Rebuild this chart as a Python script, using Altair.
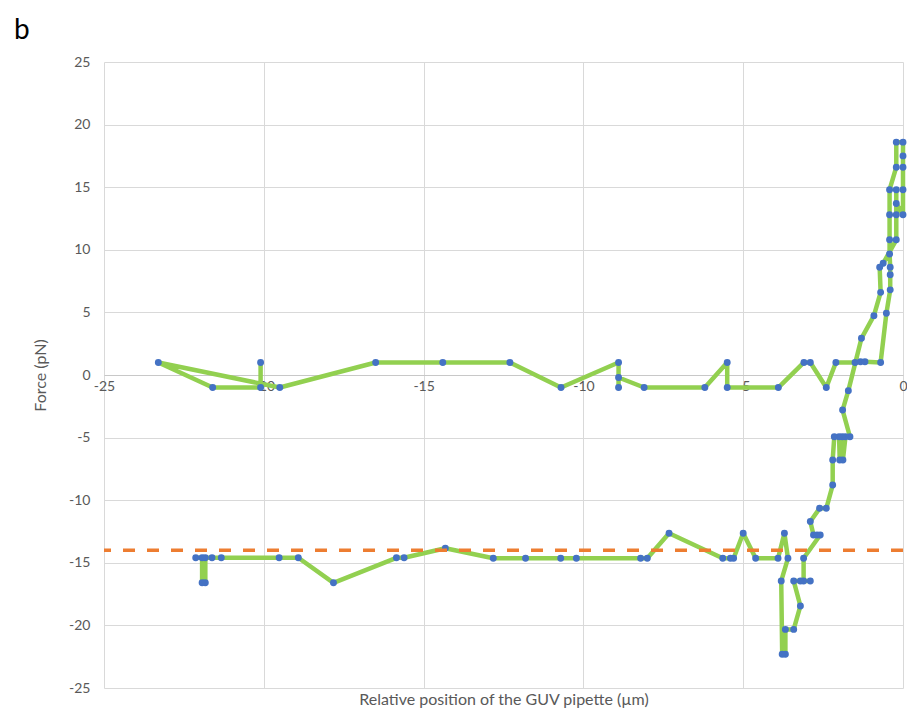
import altair as alt
import pandas as pd

# Trace of the measurement in acquisition order (x: relative position µm, y: force pN)
pos_um = [
    -20.1, -20.1, -21.6, -23.3, -19.5, -16.5, -14.4, -12.3, -10.7, -8.9,
    -8.9, -8.9, -8.1, -6.2, -5.5, -5.5, -3.9, -3.1, -2.9, -2.4,
    -2.1, -1.5, -1.33, -1.19, -0.7, -0.52, -0.4, -0.4, -0.4, -0.42,
    -0.42, -0.42, -0.42, -0.21, -0.21, 0.0, 0.0, 0.0, 0.0, 0.0,
    -0.21, -0.21, -0.21, -0.21, -0.62, -0.73, -0.7, -0.91, -1.30, -1.71,
    -1.89, -1.66, -1.8, -1.88, -1.9, -1.98, -2.0, -2.15, -2.2, -2.2,
    -2.4, -2.61, -2.9, -2.8, -2.69, -2.59, -3.11, -3.11, -2.9, -3.21,
    -3.42, -3.21, -3.42, -3.68, -3.68, -3.78, -3.81, -3.6, -3.71, -3.91,
    -4.61, -5.0, -5.3, -5.4, -5.64, -7.32, -8.0, -8.21, -10.22, -10.71,
    -11.81, -12.82, -14.32, -15.61, -15.85, -17.82, -18.92, -19.52, -21.33, -21.62,
    -21.83, -21.83, -21.93, -21.93, -22.13,
]
force_pn = [
    1.0, -1.0, -1.0, 1.0, -1.0, 1.0, 1.0, 1.0, -1.0, 1.0,
    -1.0, -0.2, -1.0, -1.0, 1.0, -1.0, -1.0, 1.0, 1.0, -1.0,
    1.0, 1.0, 1.06, 1.06, 1.0, 4.93, 6.8, 8.0, 8.6, 9.66,
    10.8, 12.8, 14.8, 16.6, 18.6, 18.6, 17.5, 16.6, 14.8, 12.8,
    13.7, 14.8, 12.8, 10.8, 8.92, 8.6, 6.6, 4.74, 2.93, -1.25,
    -2.8, -4.93, -4.93, -6.79, -4.93, -6.79, -4.93, -4.93, -6.79, -8.79,
    -10.65, -10.65, -11.7, -12.78, -12.78, -12.78, -14.64, -16.45, -16.45, -16.45,
    -16.45, -18.45, -20.32, -20.32, -22.3, -22.3, -16.45, -14.64, -12.64, -14.64,
    -14.64, -12.64, -14.64, -14.64, -14.64, -12.64, -14.64, -14.64, -14.64, -14.64,
    -14.64, -14.64, -13.84, -14.6, -14.6, -16.6, -14.6, -14.6, -14.6, -14.6,
    -14.6, -16.6, -16.6, -14.6, -14.6,
]
threshold_pn = [-14.0]
panel_label = ["b"]

x_ticks = [-25, -20, -15, -10, -5, 0]
y_ticks = [-25, -20, -15, -10, -5, 0, 5, 10, 15, 20, 25]

df = pd.DataFrame({"x": pos_um, "y": force_pn, "order": list(range(len(pos_um)))})
df_thr = pd.DataFrame({"y": threshold_pn})
df_lab = pd.DataFrame({"t": panel_label})

FONT = "Lato"
GREY_TXT = "#595959"

x_enc = alt.X(
    "x:Q",
    scale=alt.Scale(domain=[-25, 0], nice=False, zero=False),
    axis=alt.Axis(
        values=x_ticks,
        labelExpr="'' + datum.value",
        title="Relative position of the GUV pipette (µm)",
        offset=-313,
        ticks=False,
        labelPadding=4,
        labelFontSize=14,
        labelColor=GREY_TXT,
        labelFont=FONT,
        domainColor="#c8c8c8",
        domainWidth=1.2,
        gridColor="#d9d9d9",
        titleFont=FONT,
        titleFontSize=16,
        titleFontWeight="normal",
        titleColor=GREY_TXT,
        titleY=324,
        titleBaseline="middle",
        labelFlush=False,
    ),
)
y_enc = alt.Y(
    "y:Q",
    scale=alt.Scale(domain=[-25, 25], nice=False, zero=False),
    axis=alt.Axis(
        values=y_ticks,
        labelExpr="'' + datum.value",
        title="Force (pN)",
        ticks=False,
        domain=False,
        labelPadding=14,
        labelFontSize=14,
        labelColor=GREY_TXT,
        labelFont=FONT,
        gridColor="#d9d9d9",
        titleFont=FONT,
        titleFontSize=16,
        titleFontWeight="normal",
        titleColor=GREY_TXT,
        titleX=-64,
        titleY=313,
        titleAngle=-90,
        titleAlign="center",
        titleBaseline="middle",
    ),
)

line = alt.Chart(df).mark_line(color="#92D050", strokeWidth=4.5, strokeJoin="round").encode(
    x=x_enc, y=y_enc, order="order:Q"
)
pts = alt.Chart(df).mark_point(filled=True, color="#4472C4", size=48, opacity=1).encode(
    x="x:Q", y="y:Q"
)
thr = alt.Chart(df_thr).mark_rule(color="#ED7D31", strokeWidth=3.5, strokeDash=[12, 12]).encode(
    y="y:Q"
)
lab = alt.Chart(df_lab).mark_text(
    fontSize=28, font=FONT, color="#000000", align="left", baseline="alphabetic"
).encode(text="t:N", x=alt.value(-90), y=alt.value(-23))

chart = (
    alt.layer(line, pts, thr, lab)
    .properties(
        width=799,
        height=626,
        autosize=alt.AutoSizeParams(type="none"),
        padding={"left": 96, "top": 54, "right": 4, "bottom": 21},
    )
    .configure_view(strokeWidth=0)
)

chart.save("out.html", embed_options={"renderer": "svg", "actions": False})
